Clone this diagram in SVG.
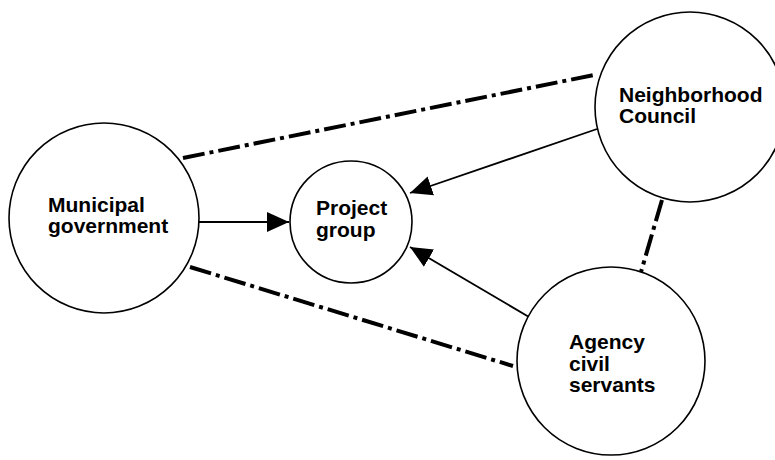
<svg xmlns="http://www.w3.org/2000/svg" width="775" height="460" viewBox="0 0 775 460">
<defs>
<style>
.node{fill:#fff;stroke:#000;stroke-width:1.6}
.lbl{font-family:"Liberation Sans",Arial,sans-serif;font-weight:bold;font-size:21px;fill:#000}
.arr{stroke:#000;stroke-width:1.8;fill:none}
.dd{stroke:#000;stroke-width:4;fill:none;stroke-dasharray:22 5 4 5}
</style>
<marker id="ah" markerUnits="userSpaceOnUse" markerWidth="24" markerHeight="22" refX="22" refY="10" orient="auto">
<path d="M0,0 L22,10 L0,20 z" fill="#000"/>
</marker>
</defs>
<rect width="775" height="460" fill="#fff"/>
<g id="connectors">
<line class="dd" x1="183" y1="158" x2="594" y2="75"/>
<line class="dd" x1="190" y1="267" x2="513" y2="366"/>
<line class="dd" x1="662" y1="200" x2="641" y2="272"/>
<line class="arr" x1="198" y1="222" x2="289" y2="222" marker-end="url(#ah)"/>
<line class="arr" x1="597" y1="129" x2="410" y2="193" marker-end="url(#ah)"/>
<line class="arr" x1="529" y1="317" x2="410" y2="247" marker-end="url(#ah)"/>
</g>
<g id="municipal">
<circle class="node" cx="104" cy="218" r="95"/>
<text class="lbl" x="48" y="212">Municipal</text>
<text class="lbl" x="48" y="233">government</text>
</g>
<g id="project">
<circle class="node" cx="351" cy="222" r="61"/>
<text class="lbl" x="316" y="215">Project</text>
<text class="lbl" x="316" y="237">group</text>
</g>
<g id="neighborhood">
<circle class="node" cx="690" cy="107" r="95"/>
<text class="lbl" x="619" y="102">Neighborhood</text>
<text class="lbl" x="619" y="123">Council</text>
</g>
<g id="agency">
<circle class="node" cx="611" cy="361" r="94"/>
<text class="lbl" x="569" y="349">Agency</text>
<text class="lbl" x="569" y="371">civil</text>
<text class="lbl" x="569" y="392">servants</text>
</g>
</svg>
